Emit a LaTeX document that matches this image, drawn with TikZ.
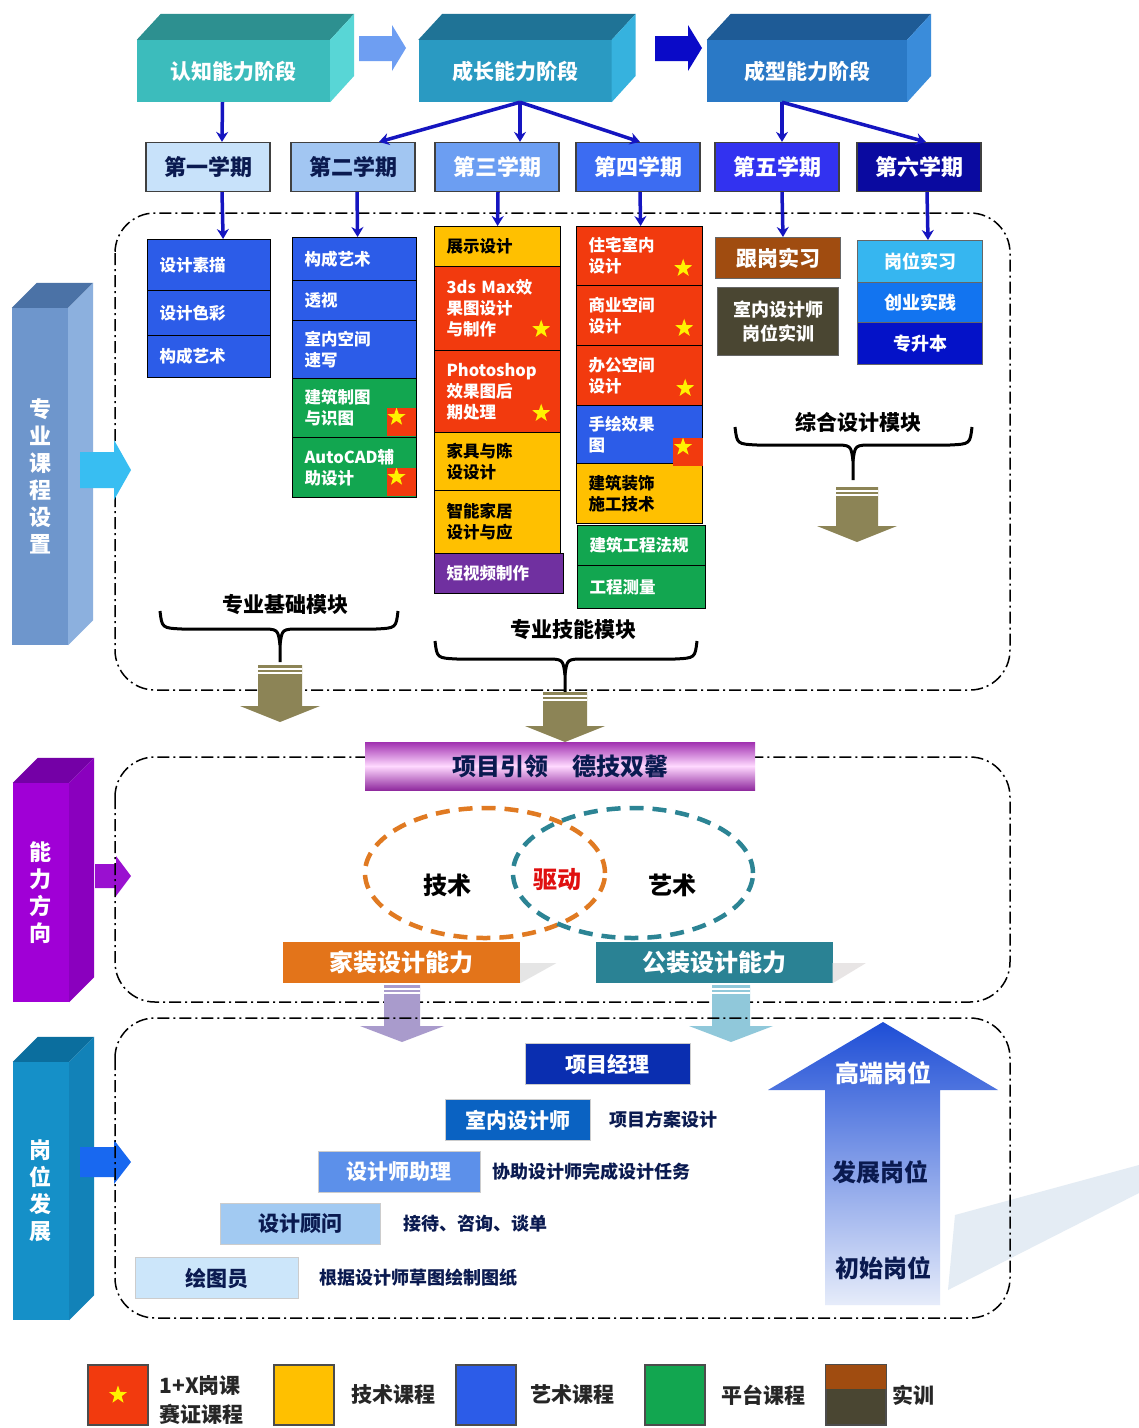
\documentclass[tikz,border=0pt]{standalone}
\usepackage{fontspec}
\setmainfont{Noto Sans CJK SC}
\usetikzlibrary{positioning}
\usetikzlibrary{calc}
\usetikzlibrary{shapes.geometric}
\usetikzlibrary{arrows.meta}

\definecolor{stageOneF}{HTML}{3CBCBC}
\definecolor{stageOneT}{HTML}{2D9090}
\definecolor{stageOneS}{HTML}{58D6D6}
\definecolor{stageTwoF}{HTML}{2A9AC2}
\definecolor{stageTwoT}{HTML}{1F7396}
\definecolor{stageTwoS}{HTML}{36B2DE}
\definecolor{stageThreeF}{HTML}{2A79C6}
\definecolor{stageThreeT}{HTML}{1E5B96}
\definecolor{stageThreeS}{HTML}{3A8CDA}
\definecolor{arrowLight}{HTML}{6E9EF2}
\definecolor{arrowDark}{HTML}{0A0AC8}
\definecolor{semOne}{HTML}{C8E2FA}
\definecolor{semTwo}{HTML}{A2C6F2}
\definecolor{semThree}{HTML}{6C9EF2}
\definecolor{semFour}{HTML}{3C6CF2}
\definecolor{semFive}{HTML}{3232F0}
\definecolor{semSix}{HTML}{0A0AA0}
\definecolor{linkBlue}{HTML}{1515C0}
\definecolor{artBlue}{HTML}{2C5CE8}
\definecolor{techYellow}{HTML}{FFC000}
\definecolor{certRed}{HTML}{F23A0E}
\definecolor{platGreen}{HTML}{12A650}
\definecolor{videoPurple}{HTML}{7030A0}
\definecolor{trainBrown}{HTML}{A04C10}
\definecolor{trainOlive}{HTML}{4A4632}
\definecolor{practiceA}{HTML}{36B6F0}
\definecolor{practiceB}{HTML}{1274F0}
\definecolor{practiceC}{HTML}{0412C8}
\definecolor{moduleOlive}{HTML}{8C8456}
\definecolor{barOneF}{HTML}{6E96CC}
\definecolor{barOneT}{HTML}{4B72A6}
\definecolor{barOneS}{HTML}{8CB0DE}
\definecolor{barTwoF}{HTML}{A000D6}
\definecolor{barTwoT}{HTML}{7400A6}
\definecolor{barTwoS}{HTML}{8A00BE}
\definecolor{barThreeF}{HTML}{1590C8}
\definecolor{barThreeT}{HTML}{0B6E9E}
\definecolor{barThreeS}{HTML}{1282B8}
\definecolor{cyanArrow}{HTML}{38BEF2}
\definecolor{purpleArrow}{HTML}{9A10D0}
\definecolor{blueArrow}{HTML}{1868F0}
\definecolor{ringOrange}{HTML}{E07A22}
\definecolor{ringTeal}{HTML}{2C8494}
\definecolor{homeOrange}{HTML}{E3741A}
\definecolor{pubTeal}{HTML}{2A8294}
\definecolor{downLilac}{HTML}{A99BCC}
\definecolor{downIce}{HTML}{90C8DA}
\definecolor{postA}{HTML}{0A2EB0}
\definecolor{postB}{HTML}{0A62C2}
\definecolor{postC}{HTML}{5C90EA}
\definecolor{postD}{HTML}{A2CAF2}
\definecolor{postE}{HTML}{CCE6FA}
\definecolor{bigTop}{HTML}{1E4ED6}
\definecolor{bigBottom}{HTML}{E6ECFA}
\definecolor{wedgeGrey}{HTML}{E4ECF4}
\definecolor{textNavy}{HTML}{0A1A50}
\definecolor{bannerPurple}{HTML}{A030B0}
\definecolor{driveRed}{HTML}{E01010}

% down pointing block arrow: centre x, top y, tip y, body half width, head half width, colour
\newcommand{\downblock}[6]{
    \fill [#6] (#1-#4,#2) -- (#1+#4,#2) -- (#1+#4,#3-16) -- (#1+#5,#3-16)
        -- (#1,#3) -- (#1-#5,#3-16) -- (#1-#4,#3-16) -- cycle;
    \draw [white, line width=1.5pt] (#1-#4,#2+4) -- (#1+#4,#2+4);
    \draw [white, line width=1.5pt] (#1-#4,#2+8) -- (#1+#4,#2+8);
}

% curly module brace: left x, right x, middle x, top y, stem end y
\newcommand{\modulebrace}[5]{
    \draw [brace line] (#1,#4) .. controls (#1+2,#4+17) .. (#1+22,#4+18)
        -- (#3-20,#4+18) .. controls (#3-2,#4+18) .. (#3,#4+34) -- (#3,#5);
    \draw [brace line] (#2,#4) .. controls (#2-2,#4+17) .. (#2-22,#4+18)
        -- (#3+20,#4+18) .. controls (#3+2,#4+18) .. (#3,#4+34);
}

\tikzset{
    % Tip used by all the blue links
    >={Stealth[length=10pt,width=12pt]},
%
    % Front face of the three stage blocks
    stage/.style={minimum width=193pt, minimum height=62pt, inner sep=0,
        text=white, font=\fontsize{21}{25}\selectfont\bfseries},
%
    % Semester boxes
    semester/.style={draw=black!75, line width=1.2pt, minimum width=124pt,
        minimum height=49pt, inner sep=0, font=\fontsize{22}{26}\selectfont\bfseries},
%
    % Links from stages to semesters and courses
    link/.style={->, line width=3.5pt, draw=linkBlue},
%
    % Course boxes, left aligned text
    course/.style={draw=black, line width=1.2pt, anchor=north west, align=left,
        inner xsep=12pt, inner ysep=2pt, text width=99pt,
        font=\fontsize{16.5}{21}\selectfont\bfseries},
    art/.style={fill=artBlue, text=white},
    tech/.style={fill=techYellow, text=black},
    cert/.style={fill=certRed, text=white},
    plat/.style={fill=platGreen, text=white},
    video/.style={fill=videoPurple, text=white},
%
    % Training boxes of the last two semesters
    practice/.style={draw=black!60, line width=1pt, anchor=north west, align=center,
        inner sep=0, minimum width=125pt, text=white,
        font=\fontsize{18}{24}\selectfont\bfseries},
%
    % Star marks of the 1+X courses
    star mark/.style={star, star points=5, star point ratio=2.5, fill=yellow,
        minimum size=19pt, inner sep=0},
    badge/.style={fill=certRed, minimum width=29pt, minimum height=28pt, inner sep=0,
        path picture={\node [star mark] at (path picture bounding box.center) {};}},
%
    % Dash-dotted section frames
    section box/.style={draw=black, line width=1.5pt, rounded corners=40pt,
        dash pattern=on 12pt off 4pt on 2pt off 4pt},
    brace line/.style={draw=black, line width=3pt},
    module/.style={font=\fontsize{21}{25}\selectfont\bfseries},
%
    % Vertical bars on the left
    bar/.style={minimum width=56pt, inner sep=0, text=white, align=center,
        font=\fontsize{22}{27}\selectfont\bfseries},
%
    ring/.style={ellipse, line width=4.5pt, dash pattern=on 14pt off 9pt,
        minimum width=240pt, minimum height=130pt},
    ability/.style={minimum width=237pt, minimum height=41pt, inner sep=0,
        text=white, font=\fontsize{24}{28}\selectfont\bfseries},
    post/.style={minimum height=41pt, inner sep=0, draw=white!80!black, line width=0.8pt,
        font=\fontsize{21}{25}\selectfont\bfseries},
    duty/.style={anchor=west, text=textNavy, font=\fontsize{18}{22}\selectfont\bfseries},
    level/.style={font=\fontsize{24}{28}\selectfont\bfseries},
    legend key/.style={draw=black!70, line width=1.2pt, minimum width=60pt,
        minimum height=60pt, inner sep=0},
    legend text/.style={align=left, text=black!85,
        font=\fontsize{21}{29}\selectfont\bfseries}}

\begin{document}
\begin{tikzpicture}[x=1pt, y=-1pt]

\fill [white] (0,0) rectangle (1139,1428);
\useasboundingbox (0,0) rectangle (1139,1428);

% Stage blocks

\node [stage, fill=stageOneF] (stage1) at (233.5,71) {认知能力阶段};
\fill [stageOneT] (stage1.north west) -- ++(24,-26)
    -- ($(stage1.north east)+(24,-26)$) -- (stage1.north east) -- cycle;
\fill [stageOneS] (stage1.north east) -- ++(24,-26) -- ++(0,62)
    -- (stage1.south east) -- cycle;

\node [stage, fill=stageTwoF] (stage2) at (515,71) {成长能力阶段};
\fill [stageTwoT] (stage2.north west) -- ++(24,-26)
    -- ($(stage2.north east)+(24,-26)$) -- (stage2.north east) -- cycle;
\fill [stageTwoS] (stage2.north east) -- ++(24,-26) -- ++(0,62)
    -- (stage2.south east) -- cycle;

\node [stage, fill=stageThreeF, minimum width=200pt] (stage3) at (807,71) {成型能力阶段};
\fill [stageThreeT] (stage3.north west) -- ++(24,-26)
    -- ($(stage3.north east)+(24,-26)$) -- (stage3.north east) -- cycle;
\fill [stageThreeS] (stage3.north east) -- ++(24,-26) -- ++(0,62)
    -- (stage3.south east) -- cycle;

\fill [arrowLight] (359,36) -- (392,36) -- (392,25) -- (406,48) -- (392,71)
    -- (392,61) -- (359,61) -- cycle;
\fill [arrowDark] (655,36) -- (688,36) -- (688,25) -- (702,48) -- (688,71)
    -- (688,61) -- (655,61) -- cycle;

% Semesters

\node [semester, fill=semOne, text=textNavy] (sem1) at (208,167) {第一学期};
\node [semester, fill=semTwo, text=textNavy] (sem2) at (353,167) {第二学期};
\node [semester, fill=semThree, text=white] (sem3) at (497,167) {第三学期};
\node [semester, fill=semFour, text=white] (sem4) at (638,167) {第四学期};
\node [semester, fill=semFive, text=white] (sem5) at (777,167) {第五学期};
\node [semester, fill=semSix, text=white] (sem6) at (919,167) {第六学期};

\draw [link] ([xshift=-11pt]stage1.south) -- ([xshift=14pt]sem1.north);
\draw [link] ([xshift=5pt]stage2.south) -- ([xshift=26pt]sem2.north);
\draw [link] ([xshift=5pt]stage2.south) -- ([xshift=23pt]sem3.north);
\draw [link] ([xshift=5pt]stage2.south) -- ([xshift=2pt]sem4.north);
\draw [link] ([xshift=-25pt]stage3.south) -- ([xshift=5pt]sem5.north);
\draw [link] ([xshift=-25pt]stage3.south) -- ([xshift=7pt]sem6.north);

% Course frame

\draw [section box] (115,213) rectangle (1010,690);

% first semester
\node [course, art, minimum height=51pt] (sumiao) at (147,239) {设计素描};
\node [course, art, minimum height=45pt] (secai) at (147,290) {设计色彩};
\node [course, art, minimum height=42pt] (gouchengA) at (147,335) {构成艺术};

% second semester
\node [course, art, text width=100pt, minimum height=43pt] (gouchengB) at (292,237) {构成艺术};
\node [course, art, text width=100pt, minimum height=40pt] (toushi) at (292,280) {透视};
\node [course, art, text width=100pt, minimum height=58pt] (suxie) at (292,320) {室内空间\\速写};
\node [course, plat, text width=100pt, minimum height=59pt] (zhitu) at (292,378) {建筑制图\\与识图};
\node [course, plat, text width=100pt, minimum height=60pt] (autocad) at (292,437) {AutoCAD辅\\助设计};
\node [badge, anchor=south east] at ([xshift=-1pt,yshift=2pt]zhitu.south east) {};
\node [badge, anchor=south east] at ([xshift=-1pt,yshift=2pt]autocad.south east) {};

% third semester
\node [course, tech, text width=102pt, minimum height=40pt] (zhanshi) at (434,226) {展示设计};
\node [course, cert, text width=102pt, minimum height=84pt] (max3d) at (434,266) {3ds Max效\\果图设计\\与制作};
\node [course, cert, text width=102pt, minimum height=82pt] (photoshop) at (434,350) {Photoshop\\效果图后\\期处理};
\node [course, tech, text width=102pt, minimum height=58pt] (jiaju) at (434,432) {家具与陈\\设设计};
\node [course, tech, text width=102pt, minimum height=63pt] (zhineng) at (434,490) {智能家居\\设计与应};
\node [course, video, text width=105pt, minimum height=40pt] (duanshipin) at (434,553) {短视频制作};
\node [star mark] at ([xshift=-20pt,yshift=22pt]max3d.south east) {};
\node [star mark] at ([xshift=-20pt,yshift=20pt]photoshop.south east) {};

% fourth semester
\node [course, cert, text width=102pt, minimum height=59pt] (zhuzhai) at (576,226) {住宅室内\\设计};
\node [course, cert, text width=102pt, minimum height=60pt] (shangye) at (576,285) {商业空间\\设计};
\node [course, cert, text width=102pt, minimum height=60pt] (bangong) at (576,345) {办公空间\\设计};
\node [course, art, text width=102pt, minimum height=58pt] (shouhui) at (576,405) {手绘效果\\图};
\node [course, tech, text width=102pt, minimum height=60pt] (shigong) at (576,463) {建筑装饰\\施工技术};
\node [course, plat, text width=104pt, minimum height=40pt] (fagui) at (577,525) {建筑工程法规};
\node [course, plat, text width=104pt, minimum height=43pt] (celiang) at (577,565) {工程测量};
\node [star mark] at ([xshift=-20pt,yshift=18pt]zhuzhai.south east) {};
\node [star mark] at ([xshift=-19pt,yshift=18pt]shangye.south east) {};
\node [star mark] at ([xshift=-18pt,yshift=18pt]bangong.south east) {};
\node [badge, anchor=south east, minimum width=30pt] at ([yshift=-2pt]shouhui.south east) {};

% fifth and sixth semester
\node [practice, fill=trainBrown, minimum height=41pt, font=\fontsize{21}{25}\selectfont\bfseries]
    (gengang) at (715,237) {跟岗实习};
\node [practice, fill=trainOlive, minimum height=68pt, minimum width=121pt]
    (shixun) at (717,287) {室内设计师\\岗位实训};
\node [practice, fill=practiceA, minimum height=42pt] (dinggang) at (857,240) {岗位实习};
\node [practice, fill=practiceB, minimum height=40pt] (chuangye) at (857,282) {创业实践};
\node [practice, fill=practiceC, minimum height=42pt] (shengben) at (857,322) {专升本};

\draw [link] ([xshift=14pt]sem1.south) -- ([xshift=14pt]sumiao.north);
\draw [link] ([xshift=4pt]sem2.south) -- ([xshift=3pt]gouchengB.north);
\draw [link] ([xshift=1pt]sem3.south) -- ([xshift=0pt]zhanshi.north);
\draw [link] ([xshift=2pt]sem4.south) -- ([xshift=1pt]zhuzhai.north);
\draw [link] ([xshift=5pt]sem5.south) -- ([xshift=5pt]gengang.north);
\draw [link] ([xshift=8pt]sem6.south) -- ([xshift=8pt]dinggang.north);

% Modules

\node [module] (jichu) at (285,605) {专业基础模块};
\node [module] (jineng) at (573,630) {专业技能模块};
\node [module] (zonghe) at (858,422) {综合设计模块};
\modulebrace{160}{398}{280}{611}{662}
\modulebrace{435}{697}{565}{641}{692}
\modulebrace{735}{972}{853}{427}{480}

\downblock{280}{665}{722}{22}{40}{moduleOlive}
\downblock{565}{692}{742}{22}{40}{moduleOlive}
\downblock{857}{487}{542}{21}{40}{moduleOlive}

% Left bars

\node [bar, fill=barOneF, minimum height=337pt] (coursebar) at (40,476.5)
    {专\\业\\课\\程\\设\\置};
\fill [barOneT] (coursebar.north west) -- ++(25,-25)
    -- ($(coursebar.north east)+(25,-25)$) -- (coursebar.north east) -- cycle;
\fill [barOneS] (coursebar.north east) -- ++(25,-25)
    -- ($(coursebar.south east)+(25,-25)$) -- (coursebar.south east) -- cycle;
\fill [cyanArrow] (80,452) -- (114,452) -- (114,440) -- (131,470) -- (114,500)
    -- (114,488) -- (80,488) -- cycle;

\node [bar, fill=barTwoF, minimum height=219pt] (abilitybar) at (41,892.5)
    {能\\力\\方\\向};
\fill [barTwoT] (abilitybar.north west) -- ++(25,-25)
    -- ($(abilitybar.north east)+(25,-25)$) -- (abilitybar.north east) -- cycle;
\fill [barTwoS] (abilitybar.north east) -- ++(25,-25)
    -- ($(abilitybar.south east)+(25,-25)$) -- (abilitybar.south east) -- cycle;
\fill [purpleArrow] (95,864) -- (116,864) -- (116,856) -- (131,876) -- (116,896)
    -- (116,888) -- (95,888) -- cycle;

\node [bar, fill=barThreeF, minimum height=258pt] (postbar) at (41,1191)
    {岗\\位\\发\\展};
\fill [barThreeT] (postbar.north west) -- ++(25,-25)
    -- ($(postbar.north east)+(25,-25)$) -- (postbar.north east) -- cycle;
\fill [barThreeS] (postbar.north east) -- ++(25,-25)
    -- ($(postbar.south east)+(25,-25)$) -- (postbar.south east) -- cycle;
\fill [blueArrow] (80,1147) -- (114,1147) -- (114,1140) -- (131,1162) -- (114,1184)
    -- (114,1177) -- (80,1177) -- cycle;

% Ability frame

\draw [section box] (115,757) rectangle (1010,1002);
\node [top color=bannerPurple, bottom color=bannerPurple!90!black,
    middle color=white!85!magenta, minimum width=390pt, minimum height=48pt,
    inner sep=0, text=textNavy, font=\fontsize{24}{28}\selectfont\bfseries]
    (banner) at (560,766) {项目引领\quad 德技双馨};

\node [ring, draw=ringOrange] (techring) at (485,873) {};
\node [ring, draw=ringTeal] (artring) at (633,873) {};
\node [level] (jishu) at (447,885) {技术};
\node [level, text=driveRed] (qudong) at (557,880) {驱动};
\node [level] (yishu) at (672,885) {艺术};

\node [ability, fill=homeOrange] (home) at (401.5,962.5) {家装设计能力};
\node [ability, fill=pubTeal] (public) at (714,962.5) {公装设计能力};
\fill [black!10] (home.south east) -- ++(0,-20) -- ++(36,0) -- cycle;
\fill [red!8!black!10] (public.south east) -- ++(0,-20) -- ++(33,0) -- cycle;

\downblock{402}{985}{1042}{18}{42}{downLilac}
\downblock{731}{985}{1042}{19}{42}{downIce}

% Post frame

\fill [wedgeGrey] (955,1215) -- (1139,1165) -- (1139,1193) -- (948,1290) -- cycle;
\draw [section box] (115,1018) rectangle (1010,1318);

\shade [top color=bigTop, bottom color=bigBottom]
    (883,1022) -- (998,1090) -- (940,1090) -- (940,1305) -- (825,1305)
    -- (825,1090) -- (768,1090) -- cycle;
\node [level, text=white] (gaoduan) at (883,1073) {高端岗位};
\node [level, text=textNavy] (fazhan) at (880,1172) {发展岗位};
\node [level, text=textNavy] (chushi) at (883,1268) {初始岗位};

\node [post, fill=postA, text=white, minimum width=165pt] (jingli) at (607.5,1064) {项目经理};
\node [post, fill=postB, text=white, minimum width=145pt] (shejishi) at (517.5,1120) {室内设计师};
\node [post, fill=postC, text=white, minimum width=162pt] (zhuli) at (399,1172) {设计师助理};
\node [post, fill=postD, text=textNavy, minimum width=160pt] (guwen) at (300,1224) {设计顾问};
\node [post, fill=postE, text=textNavy, minimum width=163pt] (huitu) at (216.5,1278) {绘图员};

\node [duty, right=16pt of shejishi] {项目方案设计};
\node [duty, right=9pt of zhuli] {协助设计师完成设计任务};
\node [duty, right=20pt of guwen] {接待、咨询、谈单};
\node [duty, right=18pt of huitu] {根据设计师草图绘制图纸};

% Legend

\node [legend key, fill=certRed] (keycert) at (118,1395) {};
\node [star mark] at (keycert) {};
\node [legend text, anchor=west] at (156,1400) {1+X岗课\\赛证课程};
\node [legend key, fill=techYellow] (keytech) at (304,1395) {};
\node [legend text, right=13pt of keytech] {技术课程};
\node [legend key, fill=artBlue] (keyart) at (486,1395) {};
\node [legend text, right=10pt of keyart] {艺术课程};
\node [legend key, fill=platGreen] (keyplat) at (675,1395) {};
\node [legend text, right=12pt of keyplat] {平台课程};
\node [legend key, fill=trainOlive] (keytrain) at (856,1395) {};
\fill [trainBrown] (keytrain.north west) rectangle ([yshift=-25pt]keytrain.north east);
\draw [draw=black!70, line width=1.2pt] (keytrain.north west) rectangle (keytrain.south east);
\node [legend text, right=2pt of keytrain] {实训};

\end{tikzpicture}
\end{document}
